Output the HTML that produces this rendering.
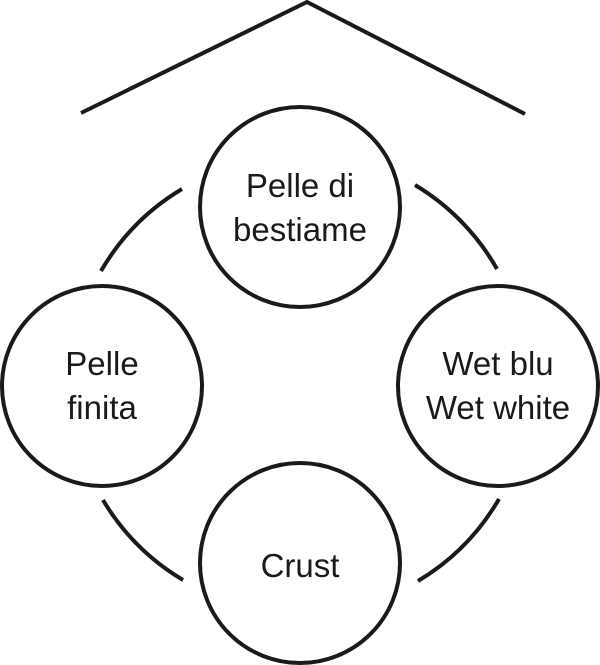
<!DOCTYPE html>
<html><head><style>html,body{margin:0;padding:0;background:#fff}svg{display:block}</style></head>
<body>
<svg width="600" height="665" viewBox="0 0 600 665" xmlns="http://www.w3.org/2000/svg">
<g fill="none" stroke="#1a1a1a" stroke-width="4">
<polyline points="81,113 307,2 525,114"/>
<path d="M182,189 A230,230 0 0 0 101,271"/>
<path d="M415,185 A230,230 0 0 1 497,269"/>
<path d="M103,500 A230,230 0 0 0 183,580"/>
<path d="M499,499 A230,230 0 0 1 418,581"/>
<circle cx="300" cy="207" r="100"/>
<circle cx="102" cy="386" r="100"/>
<circle cx="498" cy="386" r="100"/>
<circle cx="300" cy="563" r="100"/>
</g>
<g font-family="Liberation Sans, sans-serif" font-size="33" fill="#1a1a1a" text-anchor="middle">
<text x="300" y="197">Pelle di</text>
<text x="300" y="241">bestiame</text>
<text x="102" y="375">Pelle</text>
<text x="102" y="419">finita</text>
<text x="498" y="375">Wet blu</text>
<text x="498" y="419">Wet white</text>
<text x="300" y="577">Crust</text>
</g>
</svg>
</body></html>
